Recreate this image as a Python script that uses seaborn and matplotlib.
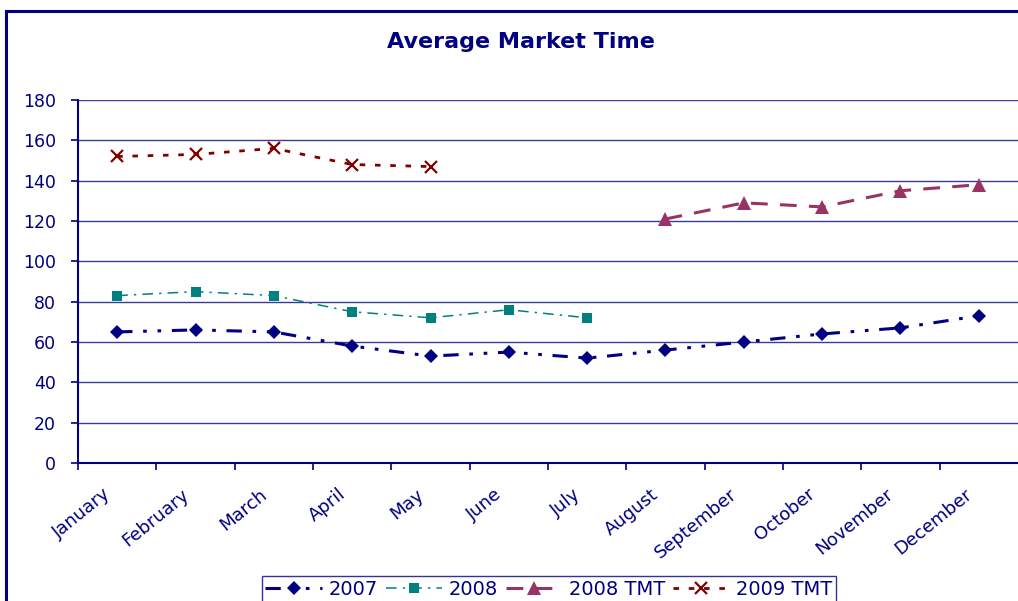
import numpy as np
import pandas as pd
import matplotlib
matplotlib.use("Agg")
import matplotlib.pyplot as plt
import matplotlib.transforms as mtransforms
import seaborn as sns
from matplotlib.patches import Rectangle

months = ["January", "February", "March", "April", "May", "June", "July",
          "August", "September", "October", "November", "December"]
s2007 = [65, 66, 65, 58, 53, 55, 52, 56, 60, 64, 67, 73]
s2008 = [83, 85, 83, 75, 72, 76, 72, None, None, None, None, None]
s2008_tmt = [None, None, None, None, None, None, None, 121, 129, 127, 135, 138]
s2009_tmt = [152, 153, 156, 148, 147, None, None, None, None, None, None, None]
series_names = ["2007", "2008", "2008 TMT", "2009 TMT"]
y_ticks = [0, 20, 40, 60, 80, 100, 120, 140, 160, 180]

sns.set_theme(style="white")
plt.rcParams['font.family'] = ['DejaVu Sans']

NAVY = "#000080"
fig = plt.figure(figsize=(10.18, 6.01), dpi=100)
ax = fig.add_axes([78/1018, 1 - 463/601, 940/1018, 363/601])

rows = []
for name, vals in zip(series_names, [s2007, s2008, s2008_tmt, s2009_tmt]):
    for i, v in enumerate(vals):
        if v is not None:
            rows.append({"series": name, "pos": i, "value": v})
df = pd.DataFrame(rows)

styles = {
    "2007": dict(color=NAVY, lw=2.2, dashes=(5, 3.5, 1.2, 3.5, 1.2, 3.5), marker="D", ms=7.5, mew=0),
    "2008": dict(color="#008080", lw=1.1, dashes=(7, 4, 1.5, 4), marker="s", ms=6.5, mew=0),
    "2008 TMT": dict(color="#993366", lw=2.2, dashes=(5.5, 4), marker="^", ms=9.5, mew=0),
    "2009 TMT": dict(color="#800000", lw=2.0, dashes=(2, 3.5), marker="x", ms=8, mew=1.6),
}

for name in series_names:
    st = styles[name]
    sub = df[df["series"] == name]
    sns.lineplot(data=sub, x="pos", y="value", ax=ax, color=st["color"], lw=st["lw"],
                 marker=st["marker"], markersize=st["ms"], markeredgewidth=st["mew"],
                 markeredgecolor=st["color"], label=name, zorder=3)
    ln = ax.lines[-1]
    ln.set_dashes(st["dashes"])

ax.set_xlim(-0.5, 11.5)
ax.set_ylim(0, 180)
ax.set_yticks(y_ticks)
ax.set_xticks(np.arange(-0.5, 11, 1.0))
ax.set_xticklabels([])
ax.set_xticks(np.arange(12), minor=True)
ax.set_xticklabels(months, minor=True, rotation=39, ha="right", va="center",
                   rotation_mode="anchor", fontsize=13, color=NAVY)
ax.tick_params(axis="x", which="minor", length=0, pad=21)
ax.tick_params(axis="x", which="major", length=5, width=1.2, color=NAVY, direction="out", bottom=True)
ax.tick_params(axis="y", length=5, width=1.2, color=NAVY, direction="out", left=True,
               labelsize=12.5, labelcolor=NAVY, pad=11)
ax.set_xlabel("")
ax.set_ylabel("")
shift = mtransforms.ScaledTranslation(-9/100, 0, fig.dpi_scale_trans)
for lbl in ax.get_xticklabels(minor=True):
    lbl.set_transform(lbl.get_transform() + shift)

for yv in y_ticks[1:]:
    ax.axhline(yv, color="#3a3a9e", lw=1.0, zorder=1)
for side in ["top", "right"]:
    ax.spines[side].set_visible(False)
for side in ["left", "bottom"]:
    ax.spines[side].set_color(NAVY)
    ax.spines[side].set_linewidth(1.5)

fig.text(0.512, 1 - 42/601, "Average Market Time", ha="center", va="center",
         fontsize=16, fontweight="bold", color=NAVY)

leg = ax.legend(loc="upper center", bbox_to_anchor=(549/1018, 1 - 576/601),
                bbox_transform=fig.transFigure, ncol=4, frameon=True, fancybox=False,
                fontsize=14, handlelength=2.9, handletextpad=0.35, columnspacing=0.4,
                borderpad=0.2, borderaxespad=0)
leg.get_frame().set_edgecolor(NAVY)
leg.get_frame().set_linewidth(1.0)
for t in leg.get_texts():
    t.set_color(NAVY)

fig.patches.append(Rectangle((6/1018, -0.1), 1.2, 1 - 11/601 + 0.1, transform=fig.transFigure,
                             fill=False, edgecolor=NAVY, lw=2.2, zorder=0))

fig.savefig("out.png", dpi=100)
